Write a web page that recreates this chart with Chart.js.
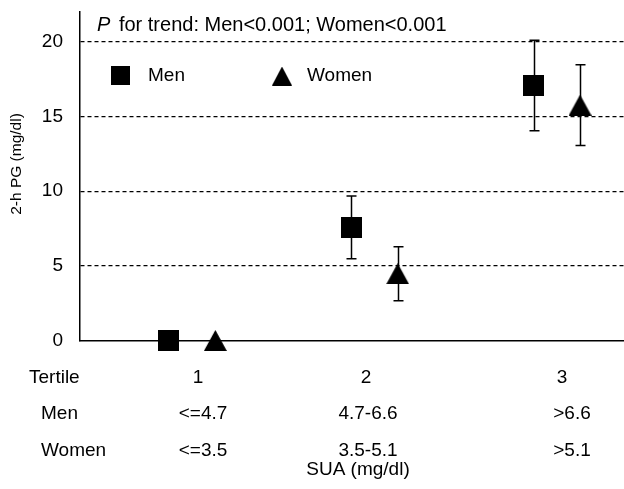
<!DOCTYPE html>
<html>
<head>
<meta charset="utf-8">
<script src="https://cdn.jsdelivr.net/npm/chart.js@4/dist/chart.umd.min.js"></script>
<style>
  html, body { margin: 0; padding: 0; background: #fff; }
  #wrap { width: 624px; height: 489px; }
</style>
</head>
<body>
<div id="wrap"><canvas id="c" width="624" height="489"></canvas></div>
<script>
// ---- data ----
const tertiles = ['1', '2', '3'];
const menRanges = ['<=4.7', '4.7-6.6', '>6.6'];
const womenRanges = ['<=3.5', '3.5-5.1', '>5.1'];
const menMean = [0, 7.57, 17.07];
const menErr = [0, 2.10, 3.03];
const womenMean = [0, 4.47, 15.76];
const womenErr = [0, 1.81, 2.70];
const yTicks = [0, 5, 10, 15, 20];
const seriesNames = ['Men', 'Women'];
const titleItalic = 'P';
const titleRest = ' for trend: Men<0.001; Women<0.001';
const yTitle = '2-h PG (mg/dl)';
const xTitle = 'SUA (mg/dl)';
const rowLabels = ['Tertile', 'Men', 'Women'];

// ---- styling / layout ----
const FONT = '"Liberation Sans", Arial, sans-serif';
const OFFSET = 0.127;

function makeSquare(size) {
  const c = document.createElement('canvas');
  c.width = size; c.height = size;
  const g = c.getContext('2d');
  g.fillStyle = '#000';
  g.fillRect(0, 0, size, size);
  return c;
}
function makeTriangle(w, h) {
  const c = document.createElement('canvas');
  c.width = w; c.height = h;
  const g = c.getContext('2d');
  g.fillStyle = '#000';
  g.beginPath();
  g.moveTo(w / 2, 0);
  g.lineTo(w, h);
  g.lineTo(0, h);
  g.closePath();
  g.fill();
  return c;
}
const sqMark = makeSquare(21);
const triMark = makeTriangle(23, 21);
const sqLegend = makeSquare(19);
const triLegend = makeTriangle(20, 19);

const errorBars = {
  id: 'errorBars',
  beforeDatasetsDraw(chart) {
    const ctx = chart.ctx;
    const ys = chart.scales.y;
    const errs = [menErr, womenErr];
    ctx.save();
    ctx.strokeStyle = '#000';
    ctx.lineWidth = 1.5;
    chart.data.datasets.forEach((ds, di) => {
      const meta = chart.getDatasetMeta(di);
      meta.data.forEach((pt, i) => {
        const e = errs[di][i];
        if (!e) return;
        const v = ds.data[i].y;
        const x = Math.round(pt.x) + 0.5;
        const yt = ys.getPixelForValue(v + e);
        const yb = ys.getPixelForValue(v - e);
        ctx.beginPath();
        ctx.moveTo(x, yt); ctx.lineTo(x, yb);
        ctx.moveTo(x - 5, yt); ctx.lineTo(x + 5, yt);
        ctx.moveTo(x - 5, yb); ctx.lineTo(x + 5, yb);
        ctx.stroke();
      });
    });
    ctx.restore();
  }
};

const annotations = {
  id: 'annotations',
  afterDraw(chart) {
    const ctx = chart.ctx;
    ctx.save();
    ctx.fillStyle = '#000';
    ctx.textBaseline = 'middle';
    // title
    ctx.textAlign = 'left';
    ctx.font = 'italic 20px ' + FONT;
    ctx.fillText(titleItalic, 97, 25);
    const pw = ctx.measureText(titleItalic).width;
    ctx.font = '20px ' + FONT;
    ctx.fillText(titleRest, 97 + pw + 3, 25);
    // legend
    ctx.drawImage(sqLegend, 120 - 9.5, 75 - 9.5);
    ctx.font = '19px ' + FONT;
    ctx.fillText(seriesNames[0], 148, 76);
    ctx.drawImage(triLegend, 282 - 10, 76 - 9.5);
    ctx.fillText(seriesNames[1], 307, 76);
    // y title
    ctx.save();
    ctx.translate(17, 164);
    ctx.rotate(-Math.PI / 2);
    ctx.textAlign = 'center';
    ctx.font = '15.5px ' + FONT;
    ctx.fillText(yTitle, 0, 0);
    ctx.restore();
    // table under x axis
    ctx.font = '19px ' + FONT;
    ctx.textAlign = 'left';
    ctx.fillText(rowLabels[0], 29, 378);
    ctx.fillText(rowLabels[1], 41, 414);
    ctx.fillText(rowLabels[2], 41, 451);
    ctx.textAlign = 'center';
    const tertX = [198, 366, 562];
    const rangeX = [203, 368, 572];
    tertiles.forEach((t, i) => ctx.fillText(t, tertX[i], 378));
    menRanges.forEach((t, i) => ctx.fillText(t, rangeX[i], 414));
    womenRanges.forEach((t, i) => ctx.fillText(t, rangeX[i], 451));
    ctx.fillText(xTitle, 358, 470);
    ctx.restore();
  }
};

new Chart(document.getElementById('c'), {
  type: 'scatter',
  data: {
    datasets: [
      {
        label: seriesNames[0],
        data: menMean.map((v, i) => ({ x: i + 1 - OFFSET, y: v })),
        pointStyle: sqMark,
        pointRadius: 1,
        pointHoverRadius: 1,
        showLine: false,
        clip: false
      },
      {
        label: seriesNames[1],
        data: womenMean.map((v, i) => ({ x: i + 1 + OFFSET, y: v })),
        pointStyle: triMark,
        pointRadius: 1,
        pointHoverRadius: 1,
        showLine: false,
        clip: false
      }
    ]
  },
  options: {
    responsive: false,
    devicePixelRatio: 1,
    animation: false,
    events: [],
    layout: { autoPadding: false, padding: { left: 0, right: 0, top: 12, bottom: 0 } },
    plugins: { legend: { display: false }, tooltip: { enabled: false }, title: { display: false } },
    scales: {
      x: {
        type: 'linear',
        min: 0.385,
        max: 3.368,
        ticks: { display: false },
        grid: { display: false, drawTicks: false },
        border: { display: true, color: '#000', width: 1.5 },
        afterFit(s) { s.height = 148.5; s.paddingLeft = 0; s.paddingRight = 0; }
      },
      y: {
        min: 0,
        max: 22,
        afterBuildTicks(s) { s.ticks = yTicks.map(v => ({ value: v })); },
        ticks: { color: '#000', font: { family: FONT, size: 19 }, padding: 17 },
        grid: {
          drawTicks: false,
          lineWidth: 1.3,
          color: c => (c.tick && c.tick.value === 0) ? 'rgba(0,0,0,0)' : '#000'
        },
        border: { display: true, color: '#000', width: 1.5, dash: [4, 3] },
        afterFit(s) { s.width = 80; s.paddingTop = 0; s.paddingBottom = 0; }
      }
    }
  },
  plugins: [errorBars, annotations]
});
</script>
</body>
</html>
